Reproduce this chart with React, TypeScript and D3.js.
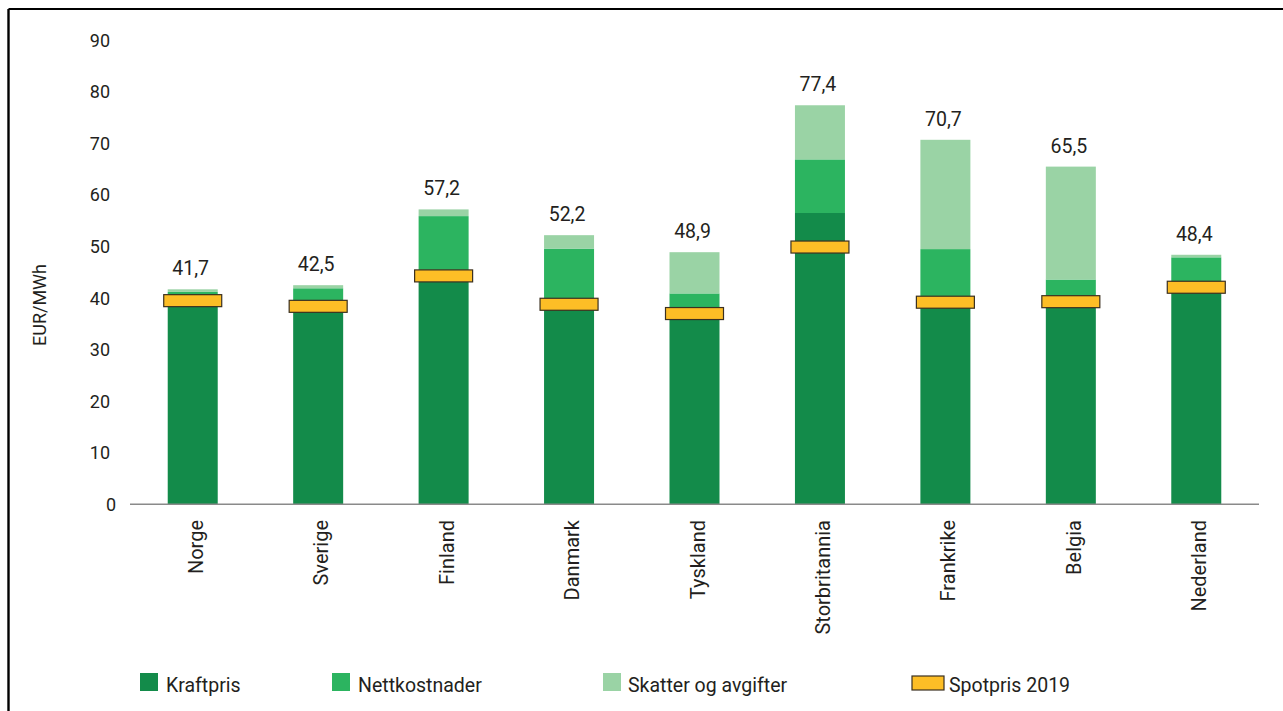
import React from "react";
import * as d3 from "d3";

const countries = ["Norge", "Sverige", "Finland", "Danmark", "Tyskland", "Storbritannia", "Frankrike", "Belgia", "Nederland"];
const kraftpris = [39.5, 38.4, 44.3, 38.8, 37.0, 56.5, 39.2, 39.3, 42.1];
const nettkostnader = [1.7, 3.5, 11.6, 10.8, 3.9, 10.4, 10.3, 4.3, 5.8];
const skatter = [0.5, 0.6, 1.3, 2.6, 8.0, 10.5, 21.2, 21.9, 0.5];
const totals = ["41,7", "42,5", "57,2", "52,2", "48,9", "77,4", "70,7", "65,5", "48,4"];
const spotpris = [39.5, 38.4, 44.3, 38.8, 37.0, 49.9, 39.2, 39.3, 42.1];
const yTicks = [0, 10, 20, 30, 40, 50, 60, 70, 80, 90];
const seriesNames = ["Kraftpris", "Nettkostnader", "Skatter og avgifter"];
const colors = ["#138B4A", "#2CB460", "#9AD3A5"];
const spotName = "Spotpris 2019";

const FONT = "Roboto, 'Liberation Sans', sans-serif";

export default function App() {
  const W = 1283, H = 711;
  const x = d3.scaleBand<string>().domain(countries).range([130, 1259]).paddingInner(0.6).paddingOuter(0.3);
  const y = d3.scaleLinear().domain([0, 90]).range([504.3, 40.3]);
  const bw = 50;

  const data = countries.map((c, i) => ({ c, k: kraftpris[i], n: nettkostnader[i], s: skatter[i] }));
  const stack = d3.stack<any>().keys(["k", "n", "s"])(data);

  const center = (c: string) => (x(c) as number) + x.bandwidth() / 2;

  const legendItems = [
    { sx: 140, tx: 166, label: seriesNames[0], color: colors[0] },
    { sx: 332, tx: 358, label: seriesNames[1], color: colors[1] },
    { sx: 603, tx: 628, label: seriesNames[2], color: colors[2] },
  ];

  return (
    <svg width={W} height={H} style={{ position: "absolute", left: 0, top: 0, background: "#fff" }} fontFamily={FONT}>
      <rect x={0} y={0} width={W} height={H} fill="#fff" />
      {/* frame */}
      <line x1={8.5} y1={9} x2={W} y2={9} stroke="#000" strokeWidth={2.2} />
      <line x1={8.5} y1={9} x2={8.5} y2={H} stroke="#000" strokeWidth={2.4} />

      {/* y ticks */}
      {yTicks.map((t) => (
        <text key={t} x={t === 0 ? 116 : 110} y={y(t)} dy="0.36em" textAnchor="end" fontSize={18} fill="#231f20">
          {t}
        </text>
      ))}
      <text transform={`translate(46,305) rotate(-90)`} textAnchor="middle" fontSize={18} fill="#231f20">EUR/MWh</text>

      {/* bars */}
      {stack.map((layer, li) => (
        <g key={li} fill={colors[li]}>
          {layer.map((d: any, i: number) => (
            <rect key={i} x={center(countries[i]) - bw / 2} width={bw} y={y(d[1])} height={y(d[0]) - y(d[1])} />
          ))}
        </g>
      ))}

      {/* baseline */}
      <line x1={130} x2={1259} y1={y(0)} y2={y(0)} stroke="#8a8a8a" strokeWidth={1.6} />

      {/* spot markers */}
      {spotpris.map((v, i) => (
        <rect key={i} x={center(countries[i]) - 29} width={58} y={y(v) - 6} height={12} fill="#FDBE26" stroke="#3b3020" strokeWidth={1.2} />
      ))}

      {/* total labels */}
      {countries.map((c, i) => (
        <text key={c} x={center(c) - 2} y={y(kraftpris[i] + nettkostnader[i] + skatter[i]) - 14} textAnchor="middle" fontSize={19.5} fill="#231f20">
          {totals[i]}
        </text>
      ))}

      {/* x labels */}
      {countries.map((c) => (
        <text key={c} transform={`translate(${center(c) + 10},520) rotate(-90)`} textAnchor="end" fontSize={20} fill="#231f20">
          {c}
        </text>
      ))}

      {/* legend */}
      {legendItems.map((l) => (
        <g key={l.label}>
          <rect x={l.sx} y={673} width={18} height={18} fill={l.color} />
          <text x={l.tx} y={692} fontSize={19.5} fill="#231f20">{l.label}</text>
        </g>
      ))}
      <rect x={912} y={676} width={32} height={14} fill="#FDBE26" stroke="#3b3020" strokeWidth={1.2} />
      <text x={949} y={692} fontSize={19.5} fill="#231f20">{spotName}</text>
    </svg>
  );
}
